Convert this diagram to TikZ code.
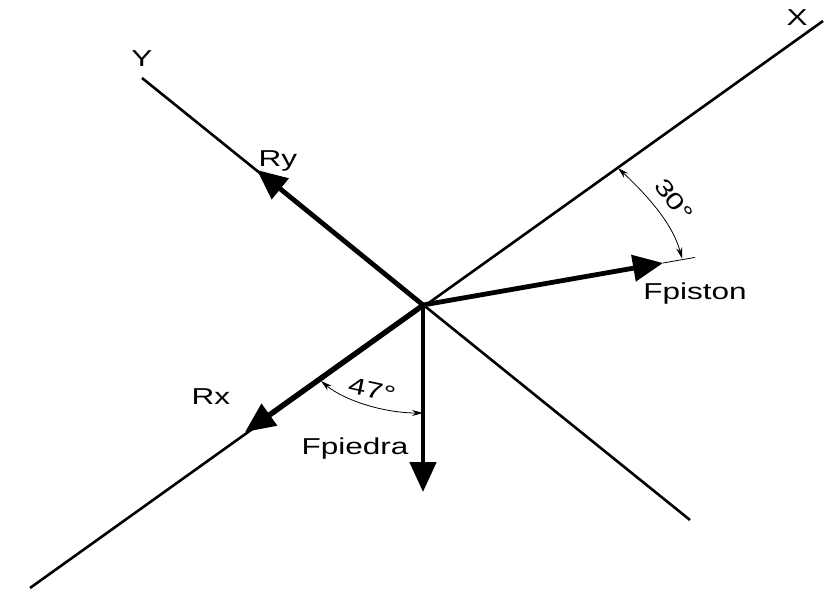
\documentclass[tikz,border=0pt]{standalone}
\usepackage{fontspec}
\setmainfont{Liberation Sans}[FakeStretch=1.37]
\usetikzlibrary{arrows.meta}
\begin{document}
\begin{tikzpicture}[x=1pt,y=-1pt,
  axisline/.style={line width=2.6pt},
  force/.style={line width=4.8pt,-{Triangle[length=30pt,width=26pt]}},
  dimarc/.style={line width=0.8pt,{Stealth[length=11pt,width=6pt]}-{Stealth[length=11pt,width=6pt]}},
  extline/.style={line width=0.8pt},
  lbl/.style={font=\fontsize{23}{26}\selectfont,inner sep=0pt}]
\useasboundingbox (0,0) rectangle (824,593);
% points
\coordinate (O) at (423,305);
\coordinate (Xa) at (30,588);
\coordinate (Xb) at (823,21);
\coordinate (Ya) at (142,78);
\coordinate (Yb) at (690,520);
\coordinate (RyT) at (257,170);
\coordinate (RxT) at (245,432);
\coordinate (FpT) at (423,492);
\coordinate (FsT) at (663,263);
\coordinate (FsE) at (695,257.4);
\coordinate (A1) at (618,168);
\coordinate (A2) at (682,258.5);
\coordinate (B1) at (321,381);
\coordinate (B2) at (423,413);
% axes
\draw[axisline] (Xa) -- (Xb);
\draw[axisline] (Ya) -- (Yb);
% forces
\draw[force] (O) -- (RyT);
\draw[force] (O) -- (RxT);
\draw[force] (O) -- (FpT);
\draw[force] (O) -- (FsT);
\draw[extline] (FsT) -- (FsE);
% angle dimensions
\draw[dimarc] (A1) .. controls (650,198) and (673,225) .. (A2);
\draw[dimarc] (B1) .. controls (345,401) and (385,413) .. (B2);
% labels
\node[lbl] (lX) at (797,18) {X};
\node[lbl] (lY) at (142,59) {Y};
\node[lbl] (lRy) at (278,161) {Ry};
\node[lbl] (lRx) at (211,397) {Rx};
\node[lbl] (lFpiedra) at (355,449) {Fpiedra};
\node[lbl] (lFpiston) at (695,294) {Fpiston};
\node[lbl,rotate=-52] (l30) at (674,200) {30°};
\node[lbl,rotate=-12] (l47) at (372,390) {47°};
\end{tikzpicture}
\end{document}
